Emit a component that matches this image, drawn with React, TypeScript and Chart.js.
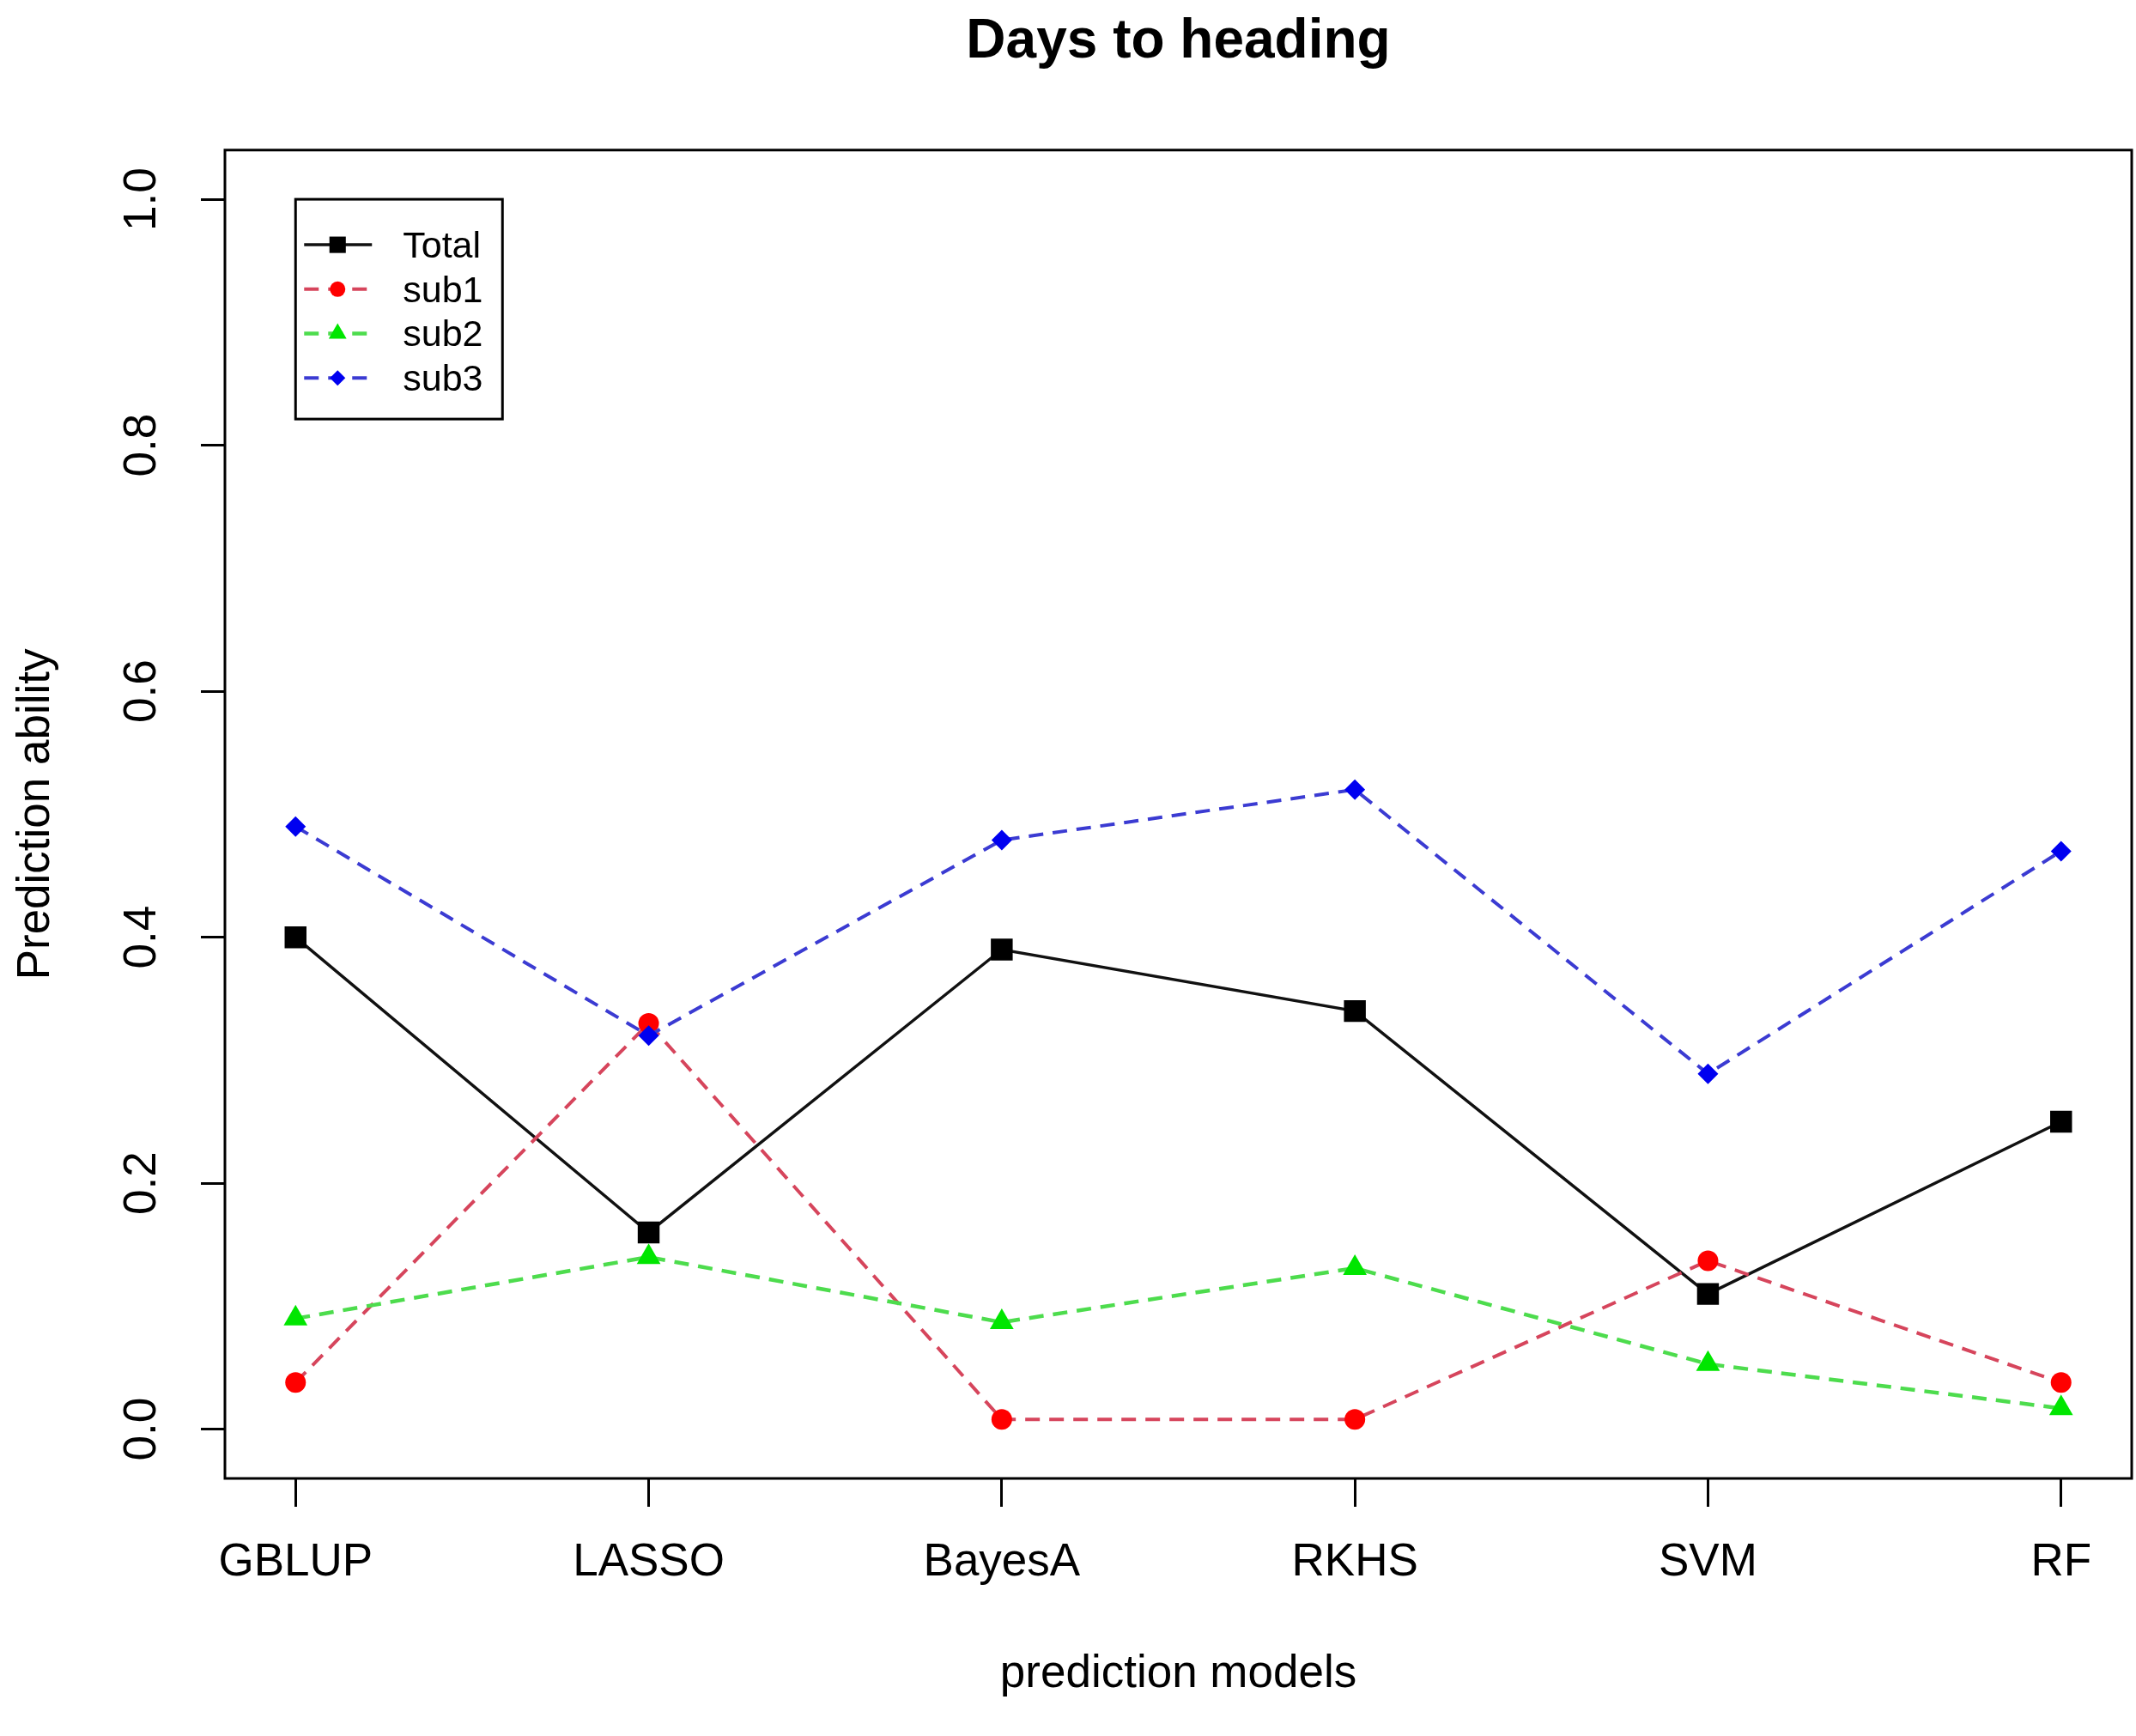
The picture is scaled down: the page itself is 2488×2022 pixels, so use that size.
import React, { useEffect, useRef } from "react";
import { Chart, registerables } from "chart.js";

Chart.register(...registerables);

// ---- data ----
const CATEGORIES = ["GBLUP", "LASSO", "BayesA", "RKHS", "SVM", "RF"];
const X_POSITIONS = [1, 2, 3, 4, 5, 6];
const SERIES_NAMES = ["Total", "sub1", "sub2", "sub3"];
const TOTAL = [0.4, 0.16, 0.39, 0.34, 0.11, 0.25];
const SUB1 = [0.038, 0.33, 0.008, 0.008, 0.137, 0.038];
const SUB2 = [0.09, 0.14, 0.087, 0.131, 0.053, 0.017];
const SUB3 = [0.49, 0.32, 0.479, 0.52, 0.289, 0.47];
const Y_TICKS = [0, 0.2, 0.4, 0.6, 0.8, 1.0];

const TITLE = "Days to heading";
const X_TITLE = "prediction models";
const Y_TITLE = "Prediction ability";

const FONT = "'Liberation Sans', Arial, Helvetica, sans-serif";

const W = 2488;
const H = 2022;

function toPoints(values: number[]) {
  return values.map((v, i) => ({ x: X_POSITIONS[i], y: v }));
}

function drawMarker(ctx: CanvasRenderingContext2D, style: string, x: number, y: number, r: number, color: string) {
  ctx.save();
  ctx.fillStyle = color;
  ctx.beginPath();
  if (style === "rect") {
    const s = r * Math.SQRT1_2;
    ctx.rect(x - s, y - s, 2 * s, 2 * s);
  } else if (style === "circle") {
    ctx.arc(x, y, r, 0, Math.PI * 2);
  } else if (style === "triangle") {
    ctx.moveTo(x, y - r);
    ctx.lineTo(x + r * 0.866, y + r * 0.5);
    ctx.lineTo(x - r * 0.866, y + r * 0.5);
    ctx.closePath();
  } else if (style === "rectRot") {
    ctx.moveTo(x, y - r);
    ctx.lineTo(x + r, y);
    ctx.lineTo(x, y + r);
    ctx.lineTo(x - r, y);
    ctx.closePath();
  }
  ctx.fill();
  ctx.restore();
}

const boxPlugin = {
  id: "rBox",
  afterDatasetsDraw(chart: any) {
    const { ctx, chartArea } = chart;
    ctx.save();
    ctx.strokeStyle = "#000";
    ctx.lineWidth = 3;
    ctx.setLineDash([]);
    ctx.strokeRect(chartArea.left, chartArea.top, chartArea.right - chartArea.left, chartArea.bottom - chartArea.top);
    ctx.restore();
  },
};

const legendPlugin = {
  id: "rLegend",
  afterDatasetsDraw(chart: any) {
    const { ctx } = chart;
    const xs = chart.scales.x;
    const ys = chart.scales.y;
    const left = xs.getPixelForValue(X_POSITIONS[0]);
    const top = ys.getPixelForValue(Y_TICKS[Y_TICKS.length - 1]);
    const w = 241;
    const h = 256;
    ctx.save();
    ctx.fillStyle = "#fff";
    ctx.fillRect(left, top, w, h);
    ctx.strokeStyle = "#000";
    ctx.lineWidth = 3;
    ctx.setLineDash([]);
    ctx.strokeRect(left, top, w, h);
    chart.data.datasets.forEach((ds: any, i: number) => {
      const cy = top + 53 + i * 51.7;
      ctx.beginPath();
      ctx.setLineDash(ds.borderDash || []);
      ctx.strokeStyle = ds.borderColor;
      ctx.lineWidth = ds.borderWidth;
      ctx.moveTo(left + 10, cy);
      ctx.lineTo(left + 89, cy);
      ctx.stroke();
      ctx.setLineDash([]);
      drawMarker(ctx, ds.pointStyle, left + 49, cy, ds.pointRadius * 0.75, ds.pointBackgroundColor);
      ctx.fillStyle = "#000";
      ctx.font = `43px ${FONT}`;
      ctx.textAlign = "left";
      ctx.textBaseline = "middle";
      ctx.fillText(ds.label, left + 125, cy + 3);
    });
    ctx.restore();
  },
};

export default function App() {
  const canvasRef = useRef<HTMLCanvasElement | null>(null);

  useEffect(() => {
    if (!canvasRef.current) return;
    Chart.defaults.color = "#000";
    Chart.defaults.font.family = FONT;

    const dash = [17, 11];
    const chart = new Chart(canvasRef.current, {
      type: "line",
      data: {
        datasets: [
          {
            label: SERIES_NAMES[0],
            data: toPoints(TOTAL),
            borderColor: "#111111",
            borderWidth: 3.5,
            pointStyle: "rect",
            pointRadius: 18,
            pointBackgroundColor: "#000000",
            pointBorderWidth: 0,
            order: 4,
          },
          {
            label: SERIES_NAMES[1],
            data: toPoints(SUB1),
            borderColor: "#d6455c",
            borderWidth: 4,
            borderDash: dash,
            pointStyle: "circle",
            pointRadius: 12,
            pointBackgroundColor: "#ff0000",
            pointBorderWidth: 0,
            order: 3,
          },
          {
            label: SERIES_NAMES[2],
            data: toPoints(SUB2),
            borderColor: "#4ddc4d",
            borderWidth: 4.5,
            borderDash: dash,
            pointStyle: "triangle",
            pointRadius: 16,
            pointBackgroundColor: "#00e600",
            pointBorderWidth: 0,
            order: 2,
          },
          {
            label: SERIES_NAMES[3],
            data: toPoints(SUB3),
            borderColor: "#3b3bd2",
            borderWidth: 4,
            borderDash: dash,
            pointStyle: "rectRot",
            pointRadius: 12,
            pointBackgroundColor: "#0000f0",
            pointBorderWidth: 0,
            order: 1,
          },
        ],
      },
      options: {
        animation: false,
        responsive: false,
        devicePixelRatio: 1,
        layout: { autoPadding: false, padding: { left: 0, right: 5, top: 0, bottom: 0 } },
        elements: { line: { tension: 0 } },
        plugins: {
          legend: { display: false },
          tooltip: { enabled: false },
          title: {
            display: true,
            text: TITLE,
            fullSize: false,
            color: "#000",
            font: { size: 64, weight: "bold", family: FONT, lineHeight: 1.2 },
            padding: { top: 11, bottom: 87 },
          },
        },
        scales: {
          x: {
            type: "linear",
            min: 0.8,
            max: 6.2,
            afterBuildTicks: (scale: any) => {
              scale.ticks = X_POSITIONS.map((v) => ({ value: v }));
            },
            afterFit: (scale: any) => {
              scale.height = 300;
              scale.paddingLeft = 0;
              scale.paddingRight = 0;
            },
            ticks: {
              autoSkip: false,
              maxRotation: 0,
              minRotation: 0,
              padding: 34,
              color: "#000",
              font: { size: 53, family: FONT },
              callback: (v: any) => CATEGORIES[X_POSITIONS.indexOf(Number(v))] ?? "",
            },
            grid: {
              display: true,
              drawOnChartArea: false,
              drawTicks: true,
              tickLength: 33,
              tickWidth: 3,
              tickColor: "#000",
            },
            border: { display: false },
            title: {
              display: true,
              text: X_TITLE,
              color: "#000",
              font: { size: 53, family: FONT, lineHeight: 1.2 },
              padding: { top: 0, bottom: 40 },
            },
          },
          y: {
            type: "linear",
            min: -0.04,
            max: 1.04,
            afterBuildTicks: (scale: any) => {
              scale.ticks = Y_TICKS.map((v) => ({ value: v }));
            },
            afterFit: (scale: any) => {
              scale.width = 262;
              scale.paddingTop = 0;
              scale.paddingBottom = 0;
            },
            ticks: {
              minRotation: 90,
              maxRotation: 90,
              crossAlign: "center",
              padding: 31,
              color: "#000",
              font: { size: 53, family: FONT },
              callback: (v: any) => Number(v).toFixed(1),
            },
            grid: {
              display: true,
              drawOnChartArea: false,
              drawTicks: true,
              tickLength: 28,
              tickWidth: 3,
              tickColor: "#000",
            },
            border: { display: false },
            title: {
              display: true,
              text: Y_TITLE,
              color: "#000",
              font: { size: 53, family: FONT, lineHeight: 1.2 },
              padding: { top: 11, bottom: 0 },
            },
          },
        },
      } as any,
      plugins: [boxPlugin, legendPlugin],
    });
    return () => chart.destroy();
  }, []);

  return (
    <div style={{ position: "absolute", left: 0, top: 0, width: W, height: H, background: "#fff" }}>
      <canvas ref={canvasRef} width={W} height={H} style={{ display: "block", width: W, height: H }} />
    </div>
  );
}
